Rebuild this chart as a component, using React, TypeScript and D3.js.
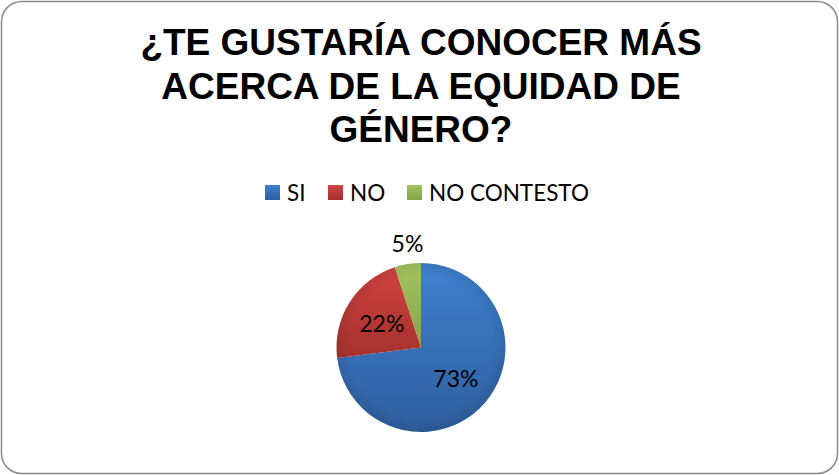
import React from "react";
import * as d3 from "d3";

const categories = ["SI", "NO", "NO CONTESTO"];
const values = [73, 22, 5];
const colorsTop = ["#3E80CE", "#D0433F", "#A2C45E"];
const colorsBottom = ["#2F5E9E", "#A5312E", "#86A446"];
const titleLines = ["¿TE GUSTARÍA CONOCER MÁS", "ACERCA DE LA EQUIDAD DE", "GÉNERO?"];

const W = 839;
const H = 475;
const cx = 421;
const cy = 347.5;
const R = 84.5;
const LABEL_FONT = "Lato, 'Open Sans', 'Noto Sans', sans-serif";

export default function App() {
  const pie = d3
    .pie<number>()
    .sort(null)
    .value((d) => d)(values);
  const arc = d3.arc<d3.PieArcDatum<number>>().innerRadius(0).outerRadius(R);
  const inLabel = d3.arc<d3.PieArcDatum<number>>().innerRadius(R * 0.55).outerRadius(R * 0.55);
  const outLabel = d3.arc<d3.PieArcDatum<number>>().innerRadius(R * 1.25).outerRadius(R * 1.25);
  const total = d3.sum(values);

  const legendX = [265, 328, 407];

  return (
    <svg
      width={W}
      height={H}
      style={{ position: "absolute", left: 0, top: 0, display: "block" }}
      xmlns="http://www.w3.org/2000/svg"
    >
      <defs>
        {categories.map((c, i) => (
          <linearGradient key={c} id={`g${i}`} x1="0" y1="0" x2="0" y2="1">
            <stop offset="0%" stopColor={colorsTop[i]} />
            <stop offset="100%" stopColor={colorsBottom[i]} />
          </linearGradient>
        ))}
        <radialGradient id="shade" cx="0.5" cy="0.5" r="0.5">
          <stop offset="85%" stopColor="#000" stopOpacity="0" />
          <stop offset="100%" stopColor="#000" stopOpacity="0.08" />
        </radialGradient>
      </defs>
      <rect x={0} y={0} width={W} height={H} fill="#fff" />
      <rect
        x={1.5}
        y={1.5}
        width={836}
        height={472}
        rx={20}
        ry={20}
        fill="#fff"
        stroke="#8a8a8a"
        strokeWidth={1.5}
      />
      <g
        fontFamily="'Liberation Sans', Arial, sans-serif"
        fontWeight="bold"
        fontSize={37}
        fill="#000"
        textAnchor="middle"
      >
        {titleLines.map((t, i) => (
          <text key={i} x={421} y={55 + i * 43.5}>
            {t}
          </text>
        ))}
      </g>
      <g fontFamily={LABEL_FONT} fontSize={22.5} fill="#000">
        {categories.map((c, i) => (
          <g key={c} transform={`translate(${legendX[i]},185)`}>
            <rect width={15} height={15} fill={`url(#g${i})`} />
            <text x={22} y={15.5}>
              {c}
            </text>
          </g>
        ))}
      </g>
      <g transform={`translate(${cx},${cy})`}>
        {pie.map((p, i) => (
          <path key={i} d={arc(p) || ""} fill={`url(#g${i})`} />
        ))}
        <circle r={R} fill="url(#shade)" />
        {pie.map((p, i) => {
          const small = p.data / total < 0.1;
          const [x, y] = small ? outLabel.centroid(p) : inLabel.centroid(p);
          return (
            <text
              key={i}
              x={x + (small ? 3 : 0)}
              y={y}
              textAnchor="middle"
              dominantBaseline="central"
              fontFamily={LABEL_FONT}
              fontSize={23}
              fill="#000"
            >
              {`${p.data}%`}
            </text>
          );
        })}
      </g>
    </svg>
  );
}
